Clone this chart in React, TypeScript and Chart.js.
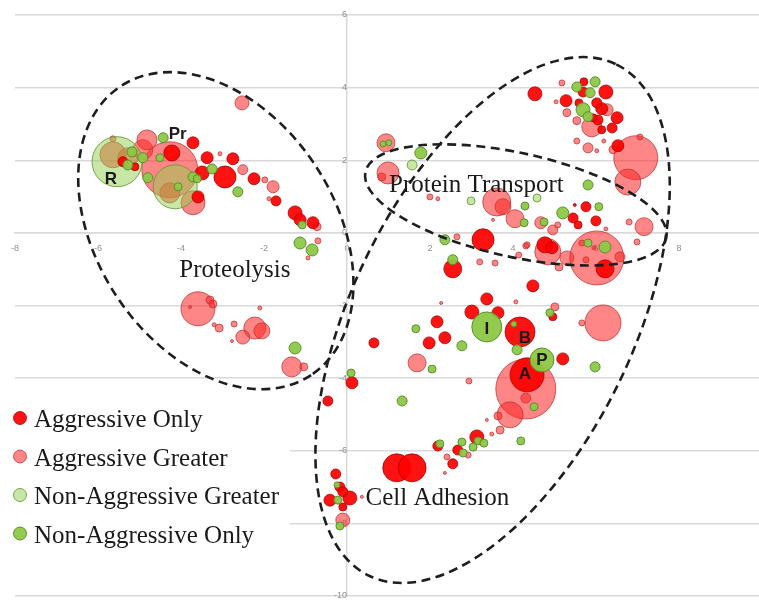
import React, { useEffect, useRef } from 'react';
import { Chart, registerables } from 'chart.js';

Chart.register(...registerables);

// ---- Data ----
const categories = ['Aggressive Only', 'Aggressive Greater', 'Non-Aggressive Greater', 'Non-Aggressive Only'];
const xTicks = [-8, -6, -4, -2, 0, 2, 4, 6, 8];
const yTicks = [-10, -8, -6, -4, -2, 0, 2, 4, 6];

// [x, y, bubble size]
const aggressiveOnly: [number, number, number][] = [
  [-5.40, 1.96, 5], [-5.11, 1.82, 4], [-4.22, 2.20, 8], [-3.71, 2.48, 6], [-3.37, 2.07, 6], [-3.49, 1.65, 7],
  [-3.59, 0.99, 6], [-2.75, 2.04, 6], [-2.94, 1.54, 11], [-2.24, 1.49, 6], [-1.71, 0.88, 5], [-1.25, 0.55, 7],
  [-1.13, 0.36, 6], [-0.82, 0.28, 6],
  [0.12, -4.13, 6], [-0.46, -4.63, 5], [0.65, -3.03, 5], [-0.27, -6.64, 5], [-0.17, -7.00, 5], [0.07, -7.30, 7],
  [-0.41, -7.36, 6], [-0.10, -7.13, 5], [-0.10, -7.55, 4], [1.20, -6.47, 14], [1.57, -6.47, 14], [2.19, -5.87, 5],
  [2.55, -6.36, 5], [2.67, -5.98, 5], [3.13, -5.62, 7],
  [4.34, -3.91, 17], [5.20, -3.47, 6], [4.96, -2.31, 4], [4.17, -2.73, 15], [3.01, -2.18, 7], [3.37, -1.82, 6],
  [3.64, -2.20, 6], [2.17, -2.45, 6], [2.36, -2.89, 6], [1.98, -3.03, 6],
  [3.28, -0.19, 11], [2.55, -0.99, 9], [4.48, -1.46, 6], [4.77, -0.33, 8], [4.94, -0.41, 6], [5.45, 0.41, 5],
  [5.57, 0.22, 4], [5.76, 0.72, 5], [6.00, 0.33, 5], [6.22, -0.99, 9],
  [4.53, 3.83, 7], [5.69, 3.88, 5], [5.71, 4.16, 4], [6.24, 3.88, 7], [5.28, 3.64, 6], [5.59, 3.58, 4],
  [6.02, 3.58, 5], [6.14, 3.42, 6], [6.51, 3.17, 6], [6.39, 2.89, 5], [6.05, 3.11, 5], [6.14, 2.84, 4],
  [5.93, 3.17, 4], [6.53, 2.40, 6], [5.49, 0.77, 1.5],
];

const aggressiveGreater: [number, number, number][] = [
  [-5.64, 2.15, 13], [-5.28, 2.07, 10], [-5.64, 2.59, 3], [-4.92, 2.29, 10], [-4.82, 2.56, 10], [-4.27, 1.74, 28],
  [-3.71, 0.83, 12], [-4.27, 1.10, 10], [-3.06, 2.18, 2], [-2.51, 1.74, 5], [-1.98, 1.46, 3], [-1.78, 1.27, 6],
  [-1.88, 0.94, 2], [-2.53, 3.58, 7], [-0.72, 0.17, 4], [-0.70, -0.22, 3], [-0.94, -0.69, 2],
  [-3.59, -2.09, 17], [-3.30, -1.85, 4], [-3.23, -1.96, 4], [-3.08, -2.62, 4], [-3.20, -2.53, 2], [-2.72, -2.51, 3],
  [-2.10, -2.07, 2], [-3.78, -2.04, 1.5], [-2.22, -2.62, 11], [-2.05, -2.70, 8], [-2.51, -2.87, 7], [-2.77, -2.98, 1.5],
  [-1.33, -3.69, 10], [-1.04, -3.69, 4],
  [0.94, 2.48, 9], [0.99, 1.65, 11], [0.84, 1.54, 4], [2.00, 0.99, 3], [2.19, 0.94, 2], [3.61, 0.85, 14],
  [3.76, 0.72, 8], [4.05, 0.39, 9], [3.52, 0.36, 1.5], [2.65, -0.11, 3], [3.20, -0.80, 3], [3.57, -0.83, 3],
  [4.31, -0.36, 3], [4.14, -0.61, 3], [4.67, 0.28, 6], [4.96, 0.08, 5], [5.08, 0.22, 3], [4.84, -0.52, 13],
  [4.34, -0.33, 3], [5.30, -0.69, 7], [5.11, -0.94, 4], [6.02, -0.69, 27], [5.66, -0.28, 3], [5.76, -0.74, 3],
  [6.58, -0.66, 5], [5.95, -0.41, 2], [7.16, 0.17, 9], [6.99, -0.25, 3], [6.80, 0.30, 3], [6.77, 1.40, 13],
  [6.96, 2.07, 22], [7.06, 2.64, 3], [6.41, 2.29, 4], [5.54, 2.53, 3], [5.81, 2.34, 5], [6.02, 2.26, 2],
  [6.19, 2.53, 2], [5.18, 4.13, 3], [5.04, 3.61, 2], [6.27, 3.39, 6], [5.30, 3.31, 4], [5.54, 3.09, 4],
  [5.90, 2.92, 10], [6.24, 0.11, 2],
  [1.69, -3.58, 9], [2.94, -4.08, 3], [2.27, -1.93, 1.5], [4.07, -1.90, 2], [5.01, -2.04, 4], [5.66, -2.48, 3],
  [6.17, -2.48, 18], [4.31, -4.30, 30], [4.31, -4.55, 5], [3.93, -5.01, 13], [3.64, -5.04, 4], [3.69, -5.43, 4],
  [3.49, -5.54, 2], [3.37, -5.15, 1.5], [2.41, -6.17, 3], [2.36, -6.61, 1.5], [2.92, -6.12, 3], [-0.10, -7.91, 7],
  [0.36, -7.27, 1.5],
];

const nonAggressiveGreater: [number, number, number][] = [
  [-5.54, 1.96, 25], [-4.14, 1.27, 22], [1.57, 1.87, 5], [2.99, 0.88, 4], [4.58, 0.96, 4],
];

const nonAggressiveOnly: [number, number, number][] = [
  [-5.18, 2.23, 5], [-4.92, 2.07, 5], [-4.51, 2.07, 4], [-4.43, 2.62, 5], [-4.80, 1.52, 5], [-4.07, 1.27, 4],
  [-3.71, 1.54, 5], [-3.61, 1.49, 4], [-5.28, 1.87, 5], [-3.25, 1.76, 5], [-2.63, 1.13, 5], [-1.08, 0.22, 4],
  [-1.13, -0.28, 6], [-0.84, -0.47, 6], [-1.25, -3.17, 6], [0.10, -3.86, 4],
  [-0.24, -6.94, 3], [-0.22, -7.36, 4], [-0.17, -8.07, 4], [2.24, -5.81, 4], [2.77, -5.76, 4], [2.80, -6.06, 4],
  [3.04, -5.90, 4], [3.16, -5.73, 4], [3.30, -5.79, 4], [4.19, -5.73, 4],
  [4.70, -3.50, 12], [4.51, -4.79, 4], [5.98, -3.69, 5], [4.89, -2.20, 4], [3.37, -2.59, 15], [4.02, -2.51, 3],
  [4.10, -3.22, 5], [1.66, -2.64, 4], [2.77, -3.11, 5], [2.05, -3.75, 4], [1.33, -4.63, 5],
  [0.87, 2.45, 3], [1.01, 2.48, 3], [1.78, 2.20, 6], [2.36, -0.19, 5], [2.55, -0.74, 5], [4.29, 0.74, 4],
  [4.27, 0.28, 4], [5.81, 1.32, 5], [5.20, 0.55, 6], [6.07, 0.72, 4], [4.75, 0.30, 4], [5.81, -0.28, 4],
  [6.22, -0.39, 6],
  [5.54, 4.02, 5], [5.98, 4.16, 5], [5.86, 3.86, 5], [5.69, 3.39, 7], [5.81, 3.20, 5],
];

// annotation texts and their anchor values
const regionNames = ['Proteolysis', 'Protein Transport', 'Cell Adhesion'];
const regionAnchors: [number, number][] = [[-2.70, -1.21], [3.12, 1.13], [2.18, -7.49]];
const bubbleTags = ['R', 'Pr', 'I', 'B', 'A', 'P'];
const bubbleTagAnchors: [number, number][] = [[-5.69, 1.49], [-4.08, 2.75], [3.37, -2.62], [4.29, -2.87], [4.29, -3.88], [4.70, -3.47]];
// ellipse centre (data), semi-axes (px), rotation (deg)
const ellipseCentres: [number, number][] = [[-3.16, 0.06], [4.07, 0.77], [3.51, -2.40]];
const ellipseShapes: [number, number, number][] = [[173, 119, 56.6], [154, 52, 12.4], [284, 141, -64.2]];

const palette = [
  { bg: 'rgba(255,0,0,0.93)', border: 'rgba(160,0,0,0.75)' },
  { bg: 'rgba(255,40,40,0.56)', border: 'rgba(190,50,50,0.75)' },
  { bg: 'rgba(146,208,80,0.5)', border: 'rgba(100,150,50,0.85)' },
  { bg: 'rgba(140,200,70,0.95)', border: 'rgba(85,135,40,0.9)' },
];

const toPoints = (arr: [number, number, number][]) =>
  arr.map(([x, y, r]) => ({ x, y, r })).sort((a, b) => b.r - a.r);

const zeroPad = (s: any) => {
  s.paddingLeft = 0; s.paddingRight = 0; s.paddingTop = 0; s.paddingBottom = 0;
};

const overlay = {
  id: 'overlay',
  beforeDatasetsDraw(chart: any) {
    const ctx = chart.ctx;
    ctx.save();
    ctx.fillStyle = '#ffffff';
    ctx.fillRect(0, 392, 290, 165);
    ctx.restore();
  },
  afterDatasetsDraw(chart: any) {
    const { ctx } = chart;
    const xs = chart.scales.x;
    const ys = chart.scales.y;
    ctx.save();
    ctx.setLineDash([9, 5.5]);
    ctx.lineWidth = 2.6;
    ctx.strokeStyle = '#1e1e1e';
    ellipseCentres.forEach(([cx, cy], i) => {
      const [a, b, rot] = ellipseShapes[i];
      ctx.beginPath();
      ctx.ellipse(xs.getPixelForValue(cx), ys.getPixelForValue(cy), a, b, (rot * Math.PI) / 180, 0, Math.PI * 2);
      ctx.stroke();
    });
    ctx.setLineDash([]);
    ctx.fillStyle = '#1a1a1a';
    ctx.font = '25px "Liberation Serif", "Times New Roman", serif';
    ctx.textAlign = 'center';
    ctx.textBaseline = 'alphabetic';
    regionNames.forEach((t, i) => {
      const [vx, vy] = regionAnchors[i];
      ctx.fillText(t, xs.getPixelForValue(vx), ys.getPixelForValue(vy));
    });
    ctx.font = 'bold 17px "Liberation Sans", Arial, sans-serif';
    ctx.textBaseline = 'middle';
    bubbleTags.forEach((t, i) => {
      const [vx, vy] = bubbleTagAnchors[i];
      ctx.fillText(t, xs.getPixelForValue(vx), ys.getPixelForValue(vy) + 1);
    });
    ctx.textAlign = 'left';
    ctx.textBaseline = 'alphabetic';
    ctx.font = '25px "Liberation Serif", "Times New Roman", serif';
    categories.forEach((c, i) => {
      const cy = 418 + i * 38.5;
      ctx.beginPath();
      ctx.arc(20, cy, 6.5, 0, Math.PI * 2);
      ctx.fillStyle = palette[i].bg;
      ctx.fill();
      ctx.lineWidth = 1;
      ctx.strokeStyle = palette[i].border;
      ctx.stroke();
      ctx.fillStyle = '#1a1a1a';
      ctx.fillText(c, 34, cy + 9);
    });
    ctx.restore();
  },
};

export default function App() {
  const ref = useRef<HTMLCanvasElement | null>(null);

  useEffect(() => {
    if (!ref.current) return;
    const series = [aggressiveOnly, aggressiveGreater, nonAggressiveGreater, nonAggressiveOnly];
    const drawOrder = [3, 0, 2, 1];
    const chart = new Chart(ref.current, {
      type: 'bubble',
      data: {
        datasets: drawOrder.map((i) => ({
          label: categories[i],
          data: toPoints(series[i]),
          backgroundColor: palette[i].bg,
          borderColor: palette[i].border,
          borderWidth: 1,
          clip: false,
        })),
      },
      options: {
        animation: false,
        responsive: false,
        maintainAspectRatio: false,
        events: [],
        layout: { autoPadding: false, padding: { left: 15, top: 15, right: 0, bottom: 5 } },
        plugins: { legend: { display: false }, tooltip: { enabled: false } },
        scales: {
          x: {
            type: 'linear',
            min: -8,
            max: 9.93,
            position: { y: 0 } as any,
            grid: { display: false },
            border: { display: true, color: '#d9d9d9', width: 1.5 },
            afterBuildTicks: (s: any) => { s.ticks = xTicks.map((v) => ({ value: v })); },
            afterFit: zeroPad,
            ticks: { color: '#8f8f8f', font: { size: 9, family: 'Liberation Sans' }, padding: 2, maxRotation: 0, autoSkip: false },
          },
          y: {
            type: 'linear',
            min: -10,
            max: 6,
            position: { x: 0 } as any,
            grid: { color: '#d9d9d9', lineWidth: 1.5, drawTicks: false },
            border: { display: true, color: '#d9d9d9', width: 1.5 },
            afterBuildTicks: (s: any) => { s.ticks = yTicks.map((v) => ({ value: v })); },
            afterFit: zeroPad,
            ticks: { color: '#8f8f8f', font: { size: 9, family: 'Liberation Sans' }, padding: 8, autoSkip: false },
          },
        },
      },
      plugins: [overlay],
    } as any);
    return () => chart.destroy();
  }, []);

  return (
    <div style={{ position: 'fixed', left: 0, top: 0, width: 759, height: 601, background: '#fff' }}>
      <canvas ref={ref} width={759} height={601} style={{ display: 'block' }} />
    </div>
  );
}
